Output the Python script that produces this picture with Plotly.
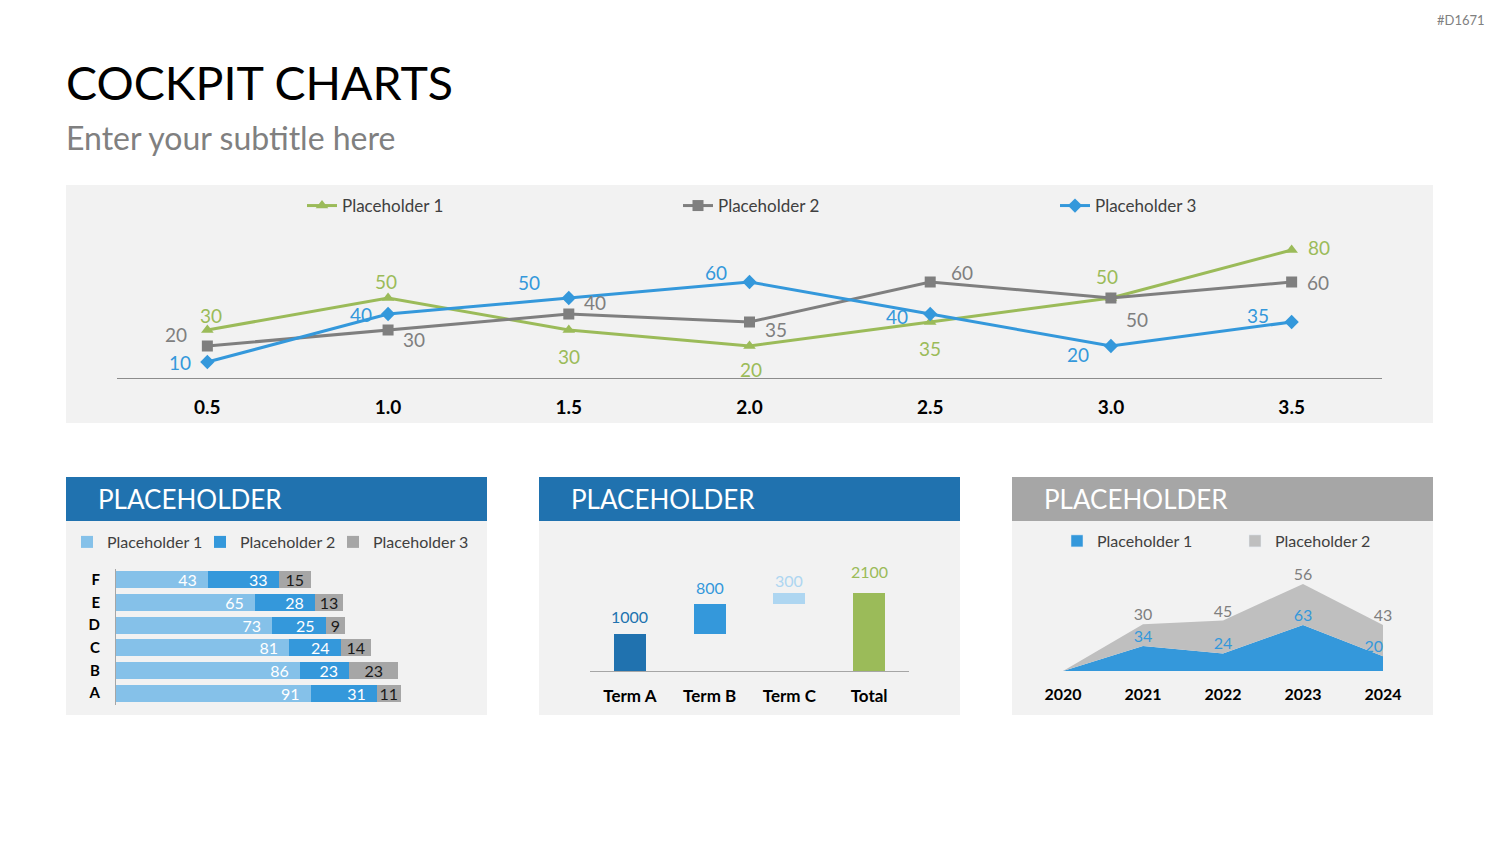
import plotly.graph_objects as go

W, H = 1500, 844
FONT = "Lato"

# ---------------- data ----------------
line_x = ["0.5", "1.0", "1.5", "2.0", "2.5", "3.0", "3.5"]
line_p1 = [30, 50, 30, 20, 35, 50, 80]
line_p2 = [20, 30, 40, 35, 60, 50, 60]
line_p3 = [10, 40, 50, 60, 40, 20, 35]
series_names = ["Placeholder 1", "Placeholder 2", "Placeholder 3"]

bar_cats = ["A", "B", "C", "D", "E", "F"]
bar_p1 = [91, 86, 81, 73, 65, 43]
bar_p2 = [31, 23, 24, 25, 28, 33]
bar_p3 = [11, 23, 14, 9, 13, 15]

wf_cats = ["Term A", "Term B", "Term C", "Total"]
wf_vals = [1000, 800, 300, 2100]

area_years = ["2020", "2021", "2022", "2023", "2024"]
area_p1 = [0, 34, 24, 63, 20]
area_p2 = [0, 30, 45, 56, 43]

# ---------------- styles ----------------
GREEN = "#9BBB59"
GRAY = "#7F7F7F"
BLUE = "#3498DB"
LBLUE = "#85C1E9"
PALE = "#AED6F1"
DBLUE = "#2072AF"
BARGRAY = "#A6A6A6"
AREAGRAY = "#BFBFBF"
PANEL = "#F2F2F2"
TXT = "#404040"
NB = "\u00a0"


def fx(px):
    return px / W


def fy(py):
    return 1 - py / H


fig = go.Figure()
ann = []

# ---------------- line chart ----------------
# label offsets (screen px, dx right, dy down) for each point's data label
off1 = [(4, -14), (-2, -16), (0, 27), (1, 24), (0, 27), (-4, -21), (27, -2)]
off2 = [(-31, -11), (26, 10), (26, -11), (26, 8), (32, -9), (26, 22), (26, 1)]
off3 = [(-27, 1), (-27, 1), (-40, -15), (-34, -9), (-33, 3), (-33, 9), (-34, -6)]
line_specs = [
    (line_p1, GREEN, "triangle-up", 11, off1, "legend"),
    (line_p2, GRAY, "square", 11, off2, "legend2"),
    (line_p3, BLUE, "diamond", 11, off3, "legend3"),
]
for (vals, col, sym, msize, offs, leg), name in zip(line_specs, series_names):
    fig.add_trace(go.Scatter(
        x=line_x, y=vals, name=name, mode="lines+markers",
        line=dict(color=col, width=3),
        marker=dict(symbol=sym, size=msize, color=col),
        xaxis="x", yaxis="y", legend=leg, cliponaxis=False,
    ))
    # category axis: annotations are placed by category index
    for i, (yv, (dx, dy)) in enumerate(zip(vals, offs)):
        ann.append(dict(text=str(yv), x=i, y=yv, xref="x", yref="y",
                        xshift=dx, yshift=-dy + 1, showarrow=False,
                        xanchor="center", yanchor="middle",
                        font=dict(family=FONT, size=19, color=col)))

# ---------------- stacked horizontal bar ----------------
bar_specs = [
    (bar_p1, LBLUE, "white", "end", NB * 2, "legend4"),
    (bar_p2, BLUE, "white", "end", NB * 2, "legend5"),
    (bar_p3, BARGRAY, "#1A1A1A", "middle", "", "legend6"),
]
for (vals, col, tcol, anchor, pad, leg), name in zip(bar_specs, series_names):
    fig.add_trace(go.Bar(
        y=bar_cats, x=vals, orientation="h", name=name,
        marker=dict(color=col, line=dict(width=0)),
        text=[str(v) + pad for v in vals], textposition="inside", textangle=0,
        insidetextanchor=anchor, constraintext="none",
        textfont=dict(family=FONT, size=16, color=tcol),
        xaxis="x2", yaxis="y2", legend=leg,
    ))

# ---------------- waterfall (bars with base) ----------------
wf_base = [sum(wf_vals[:i]) for i in range(len(wf_vals) - 1)] + [0]
wf_top = [b + v for b, v in zip(wf_base, wf_vals)]
wf_colors = [DBLUE, BLUE, PALE, GREEN]
wf_label_gap = [17, 17, 13, 22]
fig.add_trace(go.Bar(
    x=wf_cats, y=wf_vals, base=wf_base, width=0.4,
    marker=dict(color=wf_colors, line=dict(width=0)),
    showlegend=False, xaxis="x3", yaxis="y3",
))
for c, top, v, col, gap in zip(wf_cats, wf_top, wf_vals, wf_colors, wf_label_gap):
    ann.append(dict(text=str(v), x=c, y=top, xref="x3", yref="y3", showarrow=False,
                    xanchor="center", yanchor="middle", yshift=gap,
                    font=dict(family=FONT, size=16, color=col)))

# ---------------- stacked area ----------------
area_specs = [
    (area_p1, BLUE, BLUE, "legend7"),
    (area_p2, AREAGRAY, GRAY, "legend8"),
]
area_pos = [["top center", "top center", "top center", "top center", "top left"],
            ["top center"] * 5]
for (vals, col, lcol, leg), name, pos in zip(area_specs, series_names, area_pos):
    fig.add_trace(go.Scatter(
        x=area_years, y=vals, name=name, stackgroup="one",
        mode="lines+text", line=dict(width=0, color=col), fillcolor=col,
        text=[str(v) if v else "" for v in vals], textposition=pos,
        textfont=dict(family=FONT, size=16, color=lcol),
        xaxis="x4", yaxis="y4", showlegend=False, legendgroup=name, cliponaxis=False,
    ))
    # square legend key for the area series
    fig.add_trace(go.Bar(x=[None], y=[None], name=name, marker=dict(color=col),
                         xaxis="x4", yaxis="y4", legend=leg, legendgroup=name,
                         hoverinfo="skip"))

# ---------------- shapes (panels) ----------------
shapes = []


def rect(x0, y0, x1, y1, color):
    shapes.append(dict(type="rect", xref="paper", yref="paper",
                       x0=fx(x0), x1=fx(x1), y0=fy(y1), y1=fy(y0),
                       fillcolor=color, line=dict(width=0), layer="below"))


rect(66, 185, 1433, 423, PANEL)
for (x0, hcol) in [(66, DBLUE), (539, DBLUE), (1012, BARGRAY)]:
    rect(x0, 477, x0 + 421, 715, PANEL)
    rect(x0, 477, x0 + 421, 521, hcol)

# ---------------- text annotations ----------------
page_ann = [
    dict(text="COCKPIT CHARTS", x=fx(64), y=fy(82), xanchor="left", yanchor="middle",
         font=dict(family=FONT, size=46.5, color="#000000")),
    dict(text="Enter your subtitle here", x=fx(64), y=fy(137), xanchor="left", yanchor="middle",
         font=dict(family=FONT, size=32, color="#808080")),
    dict(text="#D1671", x=fx(1487), y=fy(20), xanchor="right", yanchor="middle",
         font=dict(family=FONT, size=13, color="#808080")),
]
for x0 in [66, 539, 1012]:
    page_ann.append(dict(text="PLACEHOLDER", x=fx(x0 + 30), y=fy(499), xanchor="left", yanchor="middle",
                         font=dict(family=FONT, size=26, color="white")))
for a in page_ann:
    a.update(xref="paper", yref="paper", showarrow=False)
ann = page_ann + ann


def legend_at(text_x, cy, size):
    return dict(x=fx(text_x - 40), xanchor="left", y=fy(cy), yanchor="middle",
                orientation="h", bgcolor="rgba(0,0,0,0)", borderwidth=0,
                font=dict(family=FONT, size=size, color=TXT))


noaxis = dict(showgrid=False, zeroline=False)

fig.update_layout(
    width=W, height=H, margin=dict(l=0, r=0, t=0, b=0, pad=0, autoexpand=False),
    paper_bgcolor="white", plot_bgcolor="rgba(0,0,0,0)",
    font=dict(family=FONT), barmode="stack", bargap=0.25,
    shapes=shapes, annotations=ann,
    legend=legend_at(342, 206, 17),
    legend2=legend_at(718, 206, 17),
    legend3=legend_at(1095, 206, 17),
    legend4=legend_at(107, 542, 16),
    legend5=legend_at(240, 542, 16),
    legend6=legend_at(373, 542, 16),
    legend7=legend_at(1097, 541, 16),
    legend8=legend_at(1275, 541, 16),
    # line chart
    xaxis=dict(domain=[fx(117), fx(1382)], anchor="y", type="category", range=[-0.5, 6.5],
               showline=True, linecolor="#8C8C8C", linewidth=1, ticks="",
               ticklabelstandoff=12,
               tickfont=dict(family=FONT, size=19, color="black", weight="bold"), **noaxis),
    yaxis=dict(domain=[fy(378), fy(234)], anchor="x", range=[0, 90], visible=False, **noaxis),
    # bar chart
    xaxis2=dict(domain=[fx(116), fx(470)], anchor="y2", range=[0, 354 / 2.14], visible=False, **noaxis),
    yaxis2=dict(domain=[fy(704.5), fy(568.5)], anchor="x2", type="category", range=[-0.5, 5.5],
                showline=True, linecolor="#A6A6A6", linewidth=1, ticks="", ticklabelstandoff=12,
                tickfont=dict(family=FONT, size=15, color="black", weight="bold"), **noaxis),
    # waterfall
    xaxis3=dict(domain=[fx(590), fx(909)], anchor="y3", type="category", range=[-0.5, 3.5],
                showline=True, linecolor="#A6A6A6", linewidth=1, ticks="", ticklabelstandoff=10,
                tickfont=dict(family=FONT, size=17, color="black", weight="bold"), **noaxis),
    yaxis3=dict(domain=[fy(671), fy(540)], anchor="x3", range=[0, 131 / 0.03714], visible=False, **noaxis),
    # area
    xaxis4=dict(domain=[fx(1063), fx(1383)], anchor="y4", type="category", range=[0, 4],
                showline=False, ticks="", ticklabelstandoff=12,
                tickfont=dict(family=FONT, size=16, color="black", weight="bold"), **noaxis),
    yaxis4=dict(domain=[fy(671), fy(540)], anchor="x4", range=[0, 179], visible=False, **noaxis),
)

fig.write_html("out.html")
